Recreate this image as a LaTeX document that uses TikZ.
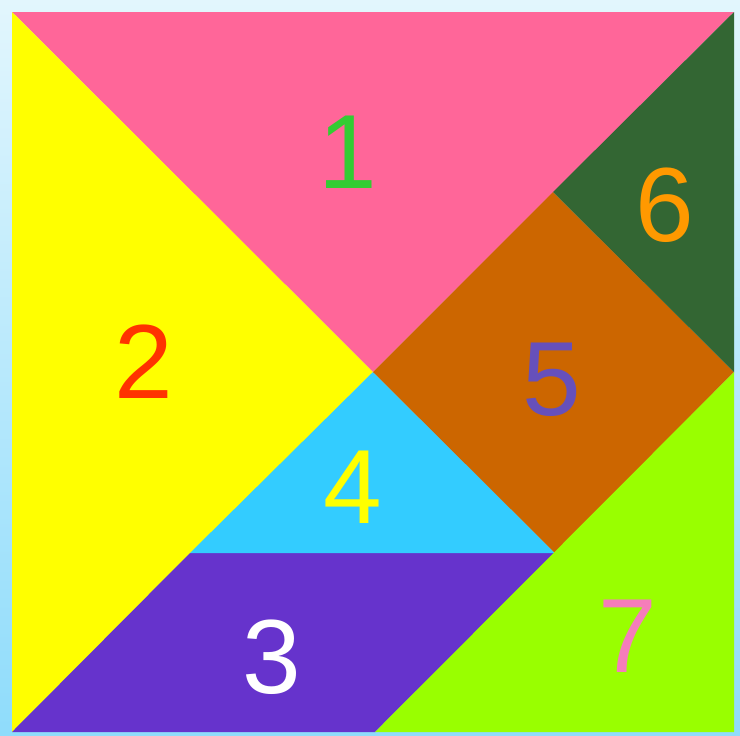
\documentclass[tikz,border=0pt]{standalone}
\usepackage{fontspec}
\setmainfont{Liberation Sans}
\usepackage{xcolor}
\definecolor{bgtop}{HTML}{E2F6FD}
\definecolor{bgbot}{HTML}{8FDCFB}
\definecolor{piecepink}{HTML}{FF6699}
\definecolor{pieceyellow}{HTML}{FFFF00}
\definecolor{piecepurple}{HTML}{6633CC}
\definecolor{piececyan}{HTML}{33CCFF}
\definecolor{piecebrown}{HTML}{CC6600}
\definecolor{piecegreen}{HTML}{336633}
\definecolor{piecelime}{HTML}{99FF00}
\definecolor{numgreen}{HTML}{33CC33}
\definecolor{numred}{HTML}{FF3300}
\definecolor{numviolet}{HTML}{6650BB}
\definecolor{numorange}{HTML}{FF9900}
\definecolor{numpink}{HTML}{F57DBA}

\begin{document}
\begin{tikzpicture}[
  x=0.02cm, y=-0.02cm,
  num/.style={inner sep=0pt, font=\fontsize{60}{60}\selectfont},
]
  % Background
  \useasboundingbox (0,0) rectangle (740,735);
  \shade[top color=bgtop, bottom color=bgbot] (0,0) rectangle (740,735);

  % Corners and cuts
  \coordinate (tl) at (12,12);
  \coordinate (tr) at (734,12);
  \coordinate (br) at (734,732);
  \coordinate (bl) at (12,732);
  \coordinate (c) at (373,372);
  \coordinate (m1) at (190,553);
  \coordinate (m2) at (555,553);
  \coordinate (m3) at (553,192);
  \coordinate (m4) at (734,372);
  \coordinate (m5) at (375,732);

  % Pieces
  \fill[piecepink] (tl) -- (tr) -- (c) -- cycle;
  \fill[pieceyellow] (tl) -- (c) -- (bl) -- cycle;
  \fill[piecepurple] (m1) -- (m2) -- (m5) -- (bl) -- cycle;
  \fill[piececyan] (c) -- (m2) -- (m1) -- cycle;
  \fill[piecebrown] (c) -- (m3) -- (m4) -- (m2) -- cycle;
  \fill[piecegreen] (m3) -- (tr) -- (m4) -- cycle;
  \fill[piecelime] (m4) -- (br) -- (m5) -- cycle;

  % Numbers
  \node[num, text=numgreen] (n1) at (348,152) {1};
  \node[num, text=numred] (n2) at (144,362) {2};
  \node[num, text=white] (n3) at (272,657) {3};
  \node[num, text=pieceyellow] (n4) at (353,487) {4};
  \node[num, text=numviolet] (n5) at (552,380) {5};
  \node[num, text=numorange] (n6) at (665,205) {6};
  \node[num, text=numpink] (n7) at (628,636) {7};
\end{tikzpicture}
\end{document}
